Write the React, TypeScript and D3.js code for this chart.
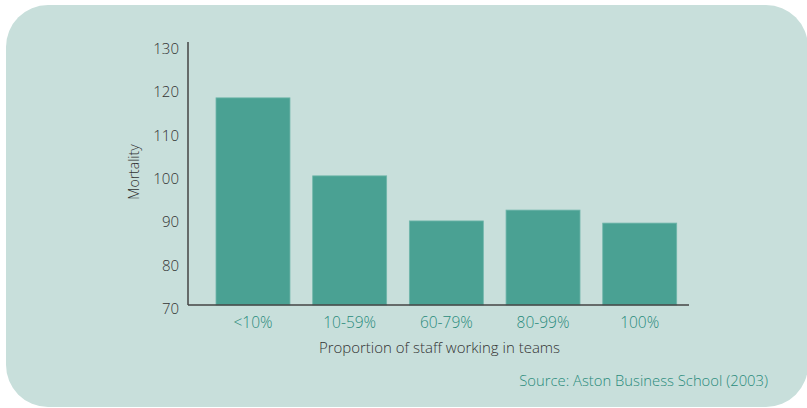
import React from "react";
import * as d3 from "d3";

const categories = ["<10%", "10-59%", "60-79%", "80-99%", "100%"];
const mortality = [117.8, 99.8, 89.4, 91.9, 88.9];
const yTicks = [70, 80, 90, 100, 110, 120, 130];
const yLabel = "Mortality";
const xLabel = "Proportion of staff working in teams";
const source = "Source: Aston Business School (2003)";

const W = 807;
const H = 408;
const FONT = "'Open Sans', 'Noto Sans', sans-serif";

function panelPath(x0: number, y0: number, x1: number, y1: number, r: number) {
  const p = d3.path();
  p.moveTo(x0 + r, y0);
  p.lineTo(x1 - r, y0);
  p.arcTo(x1, y0, x1, y0 + r, r);
  p.lineTo(x1, y1 - r);
  p.arcTo(x1, y1, x1 - r, y1, r);
  p.lineTo(x0 + r, y1);
  p.arcTo(x0, y1, x0, y1 - r, r);
  p.lineTo(x0, y0 + r);
  p.arcTo(x0, y0, x0 + r, y0, r);
  p.closePath();
  return p.toString();
}

export default function App() {
  const axisX0 = 188;
  const axisX1 = 689;
  const axisTop = 42;
  const y = d3.scaleLinear().domain([70, 130]).range([305, 45]);
  const x = d3
    .scaleBand<string>()
    .domain(categories)
    .range([204.65, 688.05])
    .paddingInner(0.235)
    .paddingOuter(0.1175);

  return (
    <svg
      width={W}
      height={H}
      style={{ position: "absolute", left: 0, top: 0, display: "block" }}
    >
      <rect x={0} y={0} width={W} height={H} fill="#ffffff" />
      <path d={panelPath(6, 5, 808, 407, 42)} fill="#c8dfdb" />

      {categories.map((c, i) => (
        <rect
          key={c}
          x={x(c)}
          y={y(mortality[i])}
          width={x.bandwidth()}
          height={y(70) - y(mortality[i])}
          fill="#4aa193"
          stroke="#6fb6aa"
          strokeWidth={0.8}
        />
      ))}

      <line x1={axisX0} y1={axisTop} x2={axisX0} y2={y(70)} stroke="#444" strokeWidth={1.5} />
      <line x1={axisX0} y1={y(70)} x2={axisX1} y2={y(70)} stroke="#444" strokeWidth={1.5} />

      {yTicks.map((t) => (
        <text
          key={t}
          x={179}
          y={y(t) + 3}
          textAnchor="end"
          dominantBaseline="central"
          fontFamily={FONT}
          fontWeight={300}
          fontSize={15}
          fill="#333"
        >
          {t}
        </text>
      ))}

      {categories.map((c) => (
        <text
          key={c}
          x={(x(c) as number) + x.bandwidth() / 2}
          y={328}
          textAnchor="middle"
          fontFamily={FONT}
          fontWeight={300}
          fontSize={15.5}
          fill="#2a8b7b"
        >
          {c}
        </text>
      ))}

      <text
        x={(axisX0 + axisX1) / 2 + 1}
        y={353}
        textAnchor="middle"
        fontFamily={FONT}
        fontWeight={300}
        fontSize={15}
        fill="#333"
      >
        {xLabel}
      </text>

      <text
        transform={`translate(139, 172) rotate(-90)`}
        textAnchor="middle"
        fontFamily={FONT}
        fontWeight={300}
        fontSize={14}
        fill="#333"
      >
        {yLabel}
      </text>

      <text
        x={768}
        y={386}
        textAnchor="end"
        fontFamily={FONT}
        fontWeight={300}
        fontSize={14.8}
        fill="#2a8b7b"
      >
        {source}
      </text>
    </svg>
  );
}
